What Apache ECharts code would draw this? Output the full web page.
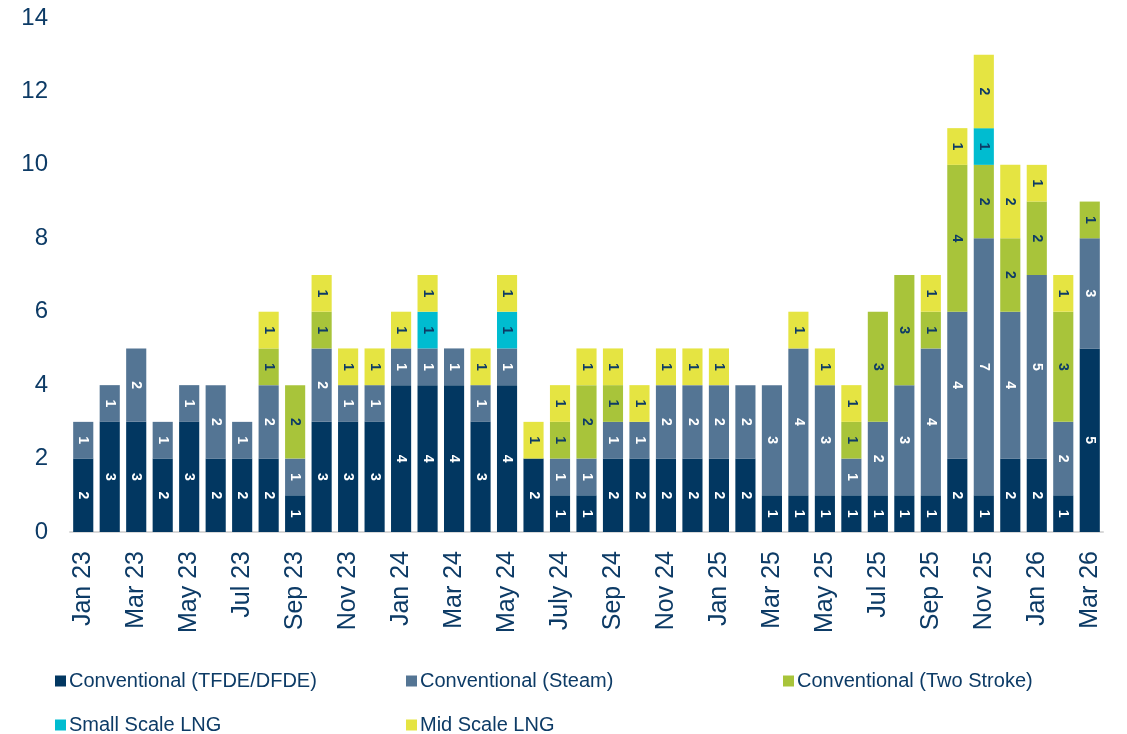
<!DOCTYPE html>
<html>
<head>
<meta charset="utf-8">
<script src="https://cdn.jsdelivr.net/npm/echarts@6/dist/echarts.min.js"></script>
<style>
  html, body { margin: 0; padding: 0; background: #fff; }
  #chart { width: 1127px; height: 734px; }
</style>
</head>
<body>
<div id="chart"></div>
<script>
const months = [
  "Jan 23", "Feb 23", "Mar 23", "Apr 23", "May 23", "Jun 23", "Jul 23", "Aug 23", "Sep 23", "Oct 23", "Nov 23", "Dec 23",
  "Jan 24", "Feb 24", "Mar 24", "Apr 24", "May 24", "Jun 24", "July 24", "Aug 24", "Sep 24", "Oct 24", "Nov 24", "Dec 24",
  "Jan 25", "Feb 25", "Mar 25", "Apr 25", "May 25", "Jun 25", "Jul 25", "Aug 25", "Sep 25", "Oct 25", "Nov 25", "Dec 25",
  "Jan 26", "Feb 26", "Mar 26"
];
const tfde      = [2,3,3,2,3,2,2,2,1,3,3,3, 4,4,4,3,4,2,1,1,2,2,2,2, 2,2,1,1,1,1,1,1,1,2,1,2, 2,1,5];
const steam     = [1,1,2,1,1,2,1,2,1,2,1,1, 1,1,1,1,1,0,1,1,1,1,2,2, 2,2,3,4,3,1,2,3,4,4,7,4, 5,2,3];
const twoStroke = [0,0,0,0,0,0,0,1,2,1,0,0, 0,0,0,0,0,0,1,2,1,0,0,0, 0,0,0,0,0,1,3,3,1,4,2,2, 2,3,1];
const smallLng  = [0,0,0,0,0,0,0,0,0,0,0,0, 0,1,0,0,1,0,0,0,0,0,0,0, 0,0,0,0,0,0,0,0,0,0,1,0, 0,0,0];
const midLng    = [0,0,0,0,0,0,0,1,0,1,1,1, 1,1,0,1,1,1,1,1,1,1,1,1, 1,0,0,1,1,1,0,0,1,1,2,2, 1,1,0];
const yTicks = [0, 2, 4, 6, 8, 10, 12, 14];

const navy = "#0d3b66";
const seriesDefs = [
  { name: "Conventional (TFDE/DFDE)", data: tfde, color: "#023761", labelColor: "#ffffff" },
  { name: "Conventional (Steam)", data: steam, color: "#547594", labelColor: "#ffffff" },
  { name: "Conventional (Two Stroke)", data: twoStroke, color: "#a8c43a", labelColor: navy },
  { name: "Small Scale LNG", data: smallLng, color: "#00bcd0", labelColor: navy },
  { name: "Mid Scale LNG", data: midLng, color: "#e5e442", labelColor: navy }
];

function buildSeries() {
  return seriesDefs.map((s) => ({
    name: s.name,
    type: "bar",
    stack: "total",
    barCategoryGap: "24%",
    data: s.data,
    itemStyle: { color: s.color },
    label: {
      show: true,
      position: "inside",
      rotate: -90,
      color: s.labelColor,
      fontFamily: "Liberation Sans, Arial",
      fontWeight: "bold",
      fontSize: 14,
      formatter: (p) => (p.value ? String(p.value) : "")
    }
  }));
}

// legend laid out as a 3-column grid
const legendPos = [
  { left: 50, top: 666 },
  { left: 401, top: 666 },
  { left: 778, top: 666 },
  { left: 50, top: 710 },
  { left: 401, top: 710 }
];

const chart = echarts.init(document.getElementById("chart"));
chart.setOption({
  animation: false,
  textStyle: { fontFamily: "Liberation Sans, Arial" },
  grid: { left: 70, right: 24, top: 18, bottom: 202 },
  legend: seriesDefs.map((s, i) => ({
    data: [s.name],
    left: legendPos[i].left,
    top: legendPos[i].top,
    itemWidth: 11,
    itemHeight: 11,
    itemGap: 0,
    icon: "rect",
    textStyle: { color: navy, fontSize: 20, padding: [0, 0, 0, -2] }
  })),
  xAxis: {
    type: "category",
    data: months,
    axisTick: { show: false },
    axisLine: { lineStyle: { color: "#d9d9d9", width: 2 } },
    axisLabel: {
      interval: 1,
      rotate: 90,
      margin: 19,
      color: navy,
      fontSize: 25
    }
  },
  yAxis: {
    type: "value",
    min: yTicks[0],
    max: yTicks[yTicks.length - 1],
    interval: 2,
    splitLine: { show: false },
    axisLine: { show: false },
    axisTick: { show: false },
    axisLabel: { color: navy, fontSize: 24, margin: 22 }
  },
  series: buildSeries()
});
</script>
</body>
</html>
